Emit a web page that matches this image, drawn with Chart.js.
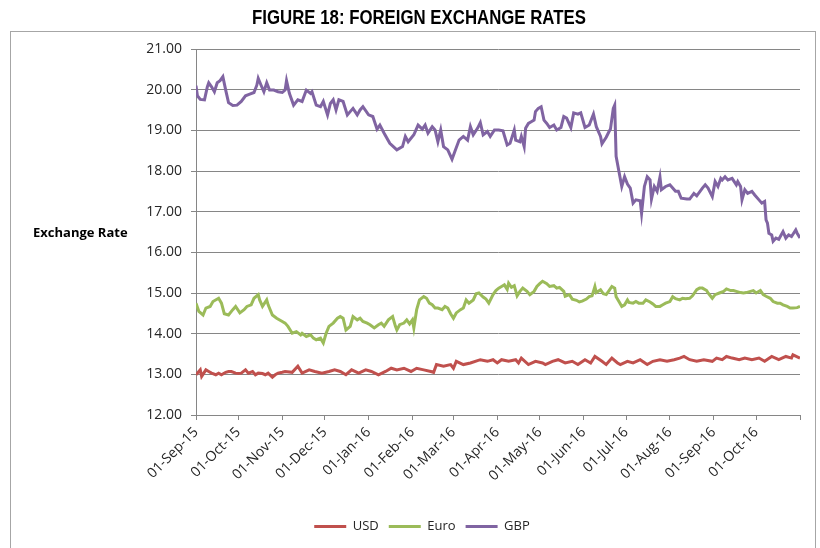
<!DOCTYPE html>
<html>
<head>
<meta charset="utf-8">
<title>Figure 18: Foreign Exchange Rates</title>
<script src="https://cdn.jsdelivr.net/npm/chart.js@4.4.0/dist/chart.umd.min.js"></script>
<style>
  html, body { margin: 0; padding: 0; background: #fff; }
  #wrap { width: 820px; height: 548px; }
</style>
</head>
<body>
<div id="wrap"><canvas id="mycanvas" width="820" height="548"></canvas></div>
<script>
// day offsets are counted from 01-Sep-2015
var chartTitle = 'FIGURE 18: FOREIGN EXCHANGE RATES';
var axisTitle = 'Exchange Rate';
var seriesNames = ['USD', 'Euro', 'GBP'];

var tickDays = [0, 30, 61, 91, 122, 153, 182, 213, 243, 274, 304, 335, 366, 396, 427];
var tickLabels = ['01-Sep-15', '01-Oct-15', '01-Nov-15', '01-Dec-15', '01-Jan-16', '01-Feb-16', '01-Mar-16',
                  '01-Apr-16', '01-May-16', '01-Jun-16', '01-Jul-16', '01-Aug-16', '01-Sep-16', '01-Oct-16', ''];

var usdDays = [0,3,4,7,9,11,14,16,18,21,23,25,28,30,32,35,37,40,42,44,47,49,51,54,56,58,61,63,68,72,
  75,80,84,89,94,98,102,106,110,115,120,124,129,134,138,142,147,152,156,161,166,168,170,175,180,182,184,189,194,201,
  206,210,213,216,221,226,228,230,235,240,245,247,252,256,261,266,270,275,279,282,287,290,294,298,300,305,309,314,319,323,
  328,333,338,342,345,349,354,359,365,368,372,375,379,384,388,393,398,402,407,412,417,421,422,427];
var usdRates = [12.99,13.11,12.95,13.11,13.07,13.03,12.99,13.03,12.99,13.05,13.07,13.07,13.03,13.02,13.03,13.11,13.03,13.07,12.99,13.03,
  13.02,12.99,13.03,12.93,12.99,13.03,13.05,13.07,13.05,13.20,13.03,13.11,13.07,13.03,13.07,13.11,13.07,12.99,13.11,13.03,
  13.11,13.07,12.99,13.07,13.15,13.11,13.15,13.07,13.15,13.11,13.07,13.05,13.24,13.20,13.24,13.15,13.32,13.24,13.28,13.36,
  13.32,13.36,13.28,13.36,13.32,13.36,13.28,13.40,13.24,13.32,13.28,13.24,13.32,13.36,13.28,13.32,13.24,13.36,13.28,13.44,
  13.32,13.24,13.40,13.28,13.24,13.32,13.28,13.36,13.24,13.32,13.36,13.32,13.36,13.40,13.44,13.36,13.32,13.36,13.32,13.40,
  13.36,13.44,13.40,13.36,13.40,13.36,13.40,13.32,13.44,13.36,13.44,13.40,13.48,13.40];

var euroDays = [0,2,5,7,10,12,16,18,20,23,26,28,31,34,36,39,41,44,45,47,50,51,54,57,61,63,65,68,71,74,
  75,78,81,83,85,88,90,92,94,97,100,102,104,106,109,111,114,116,118,121,123,126,129,131,133,136,139,141,142,144,
  147,149,151,153,154,156,158,161,163,165,167,169,171,174,176,178,180,182,184,187,189,191,193,196,198,200,203,205,207,210,
  212,214,216,218,220,221,223,225,227,229,231,234,236,239,241,243,245,248,250,253,255,257,260,261,264,266,269,271,273,276,
  278,280,282,283,286,288,290,292,294,296,297,299,301,303,305,306,309,311,313,316,318,321,323,325,328,330,332,335,337,339,
  342,344,346,349,351,354,356,358,361,362,365,367,370,373,375,378,380,382,385,387,389,392,394,396,399,401,403,406,408,411,
  413,415,418,420,422,425,427];
var euroRates = [14.75,14.55,14.46,14.63,14.67,14.79,14.87,14.75,14.49,14.46,14.59,14.67,14.51,14.59,14.67,14.71,14.87,14.96,14.83,14.67,
  14.83,14.71,14.46,14.38,14.30,14.26,14.18,14.01,14.05,13.97,14.01,13.93,13.97,13.89,13.85,13.89,13.77,14.01,14.18,14.26,
  14.38,14.42,14.38,14.09,14.18,14.42,14.34,14.38,14.30,14.26,14.22,14.14,14.22,14.26,14.18,14.34,14.42,14.18,14.09,14.22,
  14.26,14.34,14.24,14.34,14.14,14.59,14.83,14.91,14.87,14.75,14.71,14.63,14.63,14.59,14.67,14.63,14.49,14.38,14.51,14.59,
  14.63,14.83,14.75,14.83,14.98,15.00,14.90,14.85,14.75,14.96,15.06,15.12,15.16,15.20,15.09,15.24,15.14,15.18,14.93,15.04,
  15.12,15.04,14.96,15.04,15.16,15.23,15.29,15.23,15.16,15.18,15.12,15.14,15.04,14.92,14.96,14.85,14.82,14.78,14.80,14.85,
  14.91,14.93,15.16,15.01,15.08,14.98,14.96,15.06,15.16,15.12,14.91,14.79,14.67,14.71,14.83,14.77,14.75,14.79,14.75,14.75,
  14.83,14.78,14.73,14.67,14.67,14.71,14.75,14.79,14.91,14.86,14.83,14.87,14.86,14.87,14.93,15.08,15.12,15.12,15.06,15.00,
  14.87,14.96,15.00,15.04,15.10,15.06,15.06,15.04,15.01,15.00,15.01,15.04,15.06,15.00,15.06,14.96,14.92,14.87,14.79,14.75,
  14.75,14.71,14.67,14.63,14.63,14.64,14.67];

var gbpDays = [0,1,3,6,8,9,11,13,15,17,19,21,23,26,29,32,35,38,41,43,44,46,48,50,52,55,58,61,63,64,
  66,69,72,75,78,81,82,85,88,90,93,95,97,99,101,104,107,109,111,114,116,118,122,125,128,130,133,137,142,146,
  148,150,154,157,160,162,164,167,169,171,173,175,178,181,183,186,189,192,194,196,199,201,203,206,208,211,214,217,220,222,
  225,226,229,230,232,233,235,237,239,240,242,244,246,248,250,253,255,258,260,262,265,267,270,272,275,278,281,283,286,287,
  290,292,293,295,296,297,299,301,303,305,307,309,311,314,315,317,319,321,322,324,326,328,329,332,335,339,341,343,347,349,
  352,354,358,360,362,365,367,369,371,372,374,376,379,382,383,385,386,388,390,393,395,398,400,402,403,404,405,407,408,410,
  412,415,417,419,421,424,425,427];
var gbpRates = [20.10,19.85,19.76,19.75,20.07,20.17,20.07,19.95,20.17,20.22,20.32,19.99,19.68,19.61,19.62,19.71,19.85,19.89,19.93,20.11,
  20.28,20.11,19.95,20.17,19.99,19.99,19.95,19.93,19.99,20.22,19.91,19.62,19.75,19.71,19.99,19.91,19.95,19.62,19.58,19.71,
  19.38,19.66,19.75,19.50,19.75,19.71,19.38,19.46,19.54,19.38,19.50,19.58,19.38,19.34,19.03,19.13,18.93,18.68,18.52,18.60,
  18.85,18.72,18.89,19.13,19.03,19.13,18.93,19.09,19.01,18.72,19.01,18.60,18.52,18.29,18.48,18.76,18.85,18.76,19.09,18.89,
  19.05,19.19,18.89,18.97,18.85,19.01,19.01,18.99,18.64,18.68,19.01,18.76,18.72,18.85,18.60,19.05,19.17,19.21,19.25,19.46,
  19.54,19.58,19.25,19.17,19.07,19.13,19.01,19.07,19.34,19.30,19.07,19.43,19.40,19.43,19.07,19.13,19.40,19.09,18.85,18.67,
  18.83,18.97,19.03,19.54,19.62,18.36,17.99,17.62,17.86,17.68,17.58,17.21,17.29,17.27,16.96,17.62,17.86,17.78,17.31,17.62,
  17.50,17.85,17.54,17.62,17.66,17.50,17.50,17.33,17.31,17.31,17.45,17.39,17.58,17.66,17.58,17.37,17.74,17.62,17.82,17.78,
  17.86,17.78,17.82,17.66,17.74,17.62,17.29,17.54,17.45,17.50,17.41,17.29,17.21,17.25,16.80,16.72,16.47,16.43,16.27,16.35,
  16.32,16.51,16.35,16.43,16.39,16.55,16.47,16.35];

function toPoints(days, rates) {
    var pts = [];
    for (var i in days) {
        pts.push({x: days[i], y: rates[i]});
    }
    return pts;
}

Chart.defaults.font.family = "'Open Sans', sans-serif";
Chart.defaults.color = '#262626';

var framePlugin = {
    id: 'frame',
    beforeDraw: function(chart) {
        var ctx = chart.ctx;
        ctx.save();
        ctx.fillStyle = '#ffffff';
        ctx.fillRect(0, 0, chart.width, chart.height);
        ctx.strokeStyle = '#a6a6a6';
        ctx.lineWidth = 1;
        ctx.strokeRect(10.5, 31.5, 805, 530);
        ctx.restore();
    },
    afterDraw: function(chart) {
        var ctx = chart.ctx;
        ctx.save();
        ctx.fillStyle = '#000000';
        ctx.textBaseline = 'middle';
        // narrow bold title: Liberation Sans squeezed horizontally
        ctx.save();
        ctx.translate(419, 18);
        ctx.scale(0.8, 1);
        ctx.textAlign = 'center';
        ctx.font = "bold 21px 'Liberation Sans', Arial, sans-serif";
        ctx.fillText(chartTitle, 0, 0);
        ctx.restore();
        ctx.textAlign = 'left';
        ctx.font = "bold 13px 'Open Sans', sans-serif";
        ctx.fillText(axisTitle, 33, 233);
        ctx.restore();
    }
};

var chartdata = {
    datasets: [
        {
            label: seriesNames[0],
            data: toPoints(usdDays, usdRates),
            borderColor: '#c0504d',
            backgroundColor: '#c0504d',
            borderWidth: 3,
            pointRadius: 0,
            lineTension: 0,
            fill: false
        },
        {
            label: seriesNames[1],
            data: toPoints(euroDays, euroRates),
            borderColor: '#9bbb59',
            backgroundColor: '#9bbb59',
            borderWidth: 3,
            pointRadius: 0,
            lineTension: 0,
            fill: false
        },
        {
            label: seriesNames[2],
            data: toPoints(gbpDays, gbpRates),
            borderColor: '#8064a2',
            backgroundColor: '#8064a2',
            borderWidth: 3,
            pointRadius: 0,
            lineTension: 0,
            fill: false
        }
    ]
};

var ctx = document.getElementById('mycanvas');
var LineGraph = new Chart(ctx, {
    type: 'line',
    data: chartdata,
    plugins: [framePlugin],
    options: {
        responsive: false,
        animation: false,
        devicePixelRatio: 1,
        layout: { padding: { left: 44, right: 20, top: 49, bottom: 5 } },
        plugins: {
            title: { display: false },
            tooltip: { enabled: false },
            legend: {
                position: 'bottom',
                labels: {
                    usePointStyle: true,
                    pointStyle: 'line',
                    pointStyleWidth: 32,
                    padding: 10,
                    color: '#262626',
                    font: { size: 13 }
                }
            }
        },
        scales: {
            x: {
                type: 'linear',
                min: 0,
                max: 427,
                afterBuildTicks: function(scale) {
                    scale.ticks = tickDays.map(function(d) { return {value: d}; });
                },
                afterFit: function(scale) { scale.height = 95; },
                grid: { drawOnChartArea: false, drawTicks: true, tickLength: 5, color: '#868686' },
                border: { color: '#868686' },
                ticks: {
                    autoSkip: false,
                    minRotation: 45,
                    maxRotation: 45,
                    padding: 4,
                    font: { size: 14 },
                    callback: function(value, index) { return tickLabels[index]; }
                }
            },
            y: {
                min: 12,
                max: 21,
                afterFit: function(scale) { scale.width = 152; },
                grid: { color: '#868686', tickLength: 5 },
                border: { color: '#868686' },
                ticks: {
                    stepSize: 1,
                    padding: 9,
                    font: { size: 14 },
                    callback: function(value) { return value.toFixed(2); }
                }
            }
        }
    }
});
</script>
</body>
</html>
